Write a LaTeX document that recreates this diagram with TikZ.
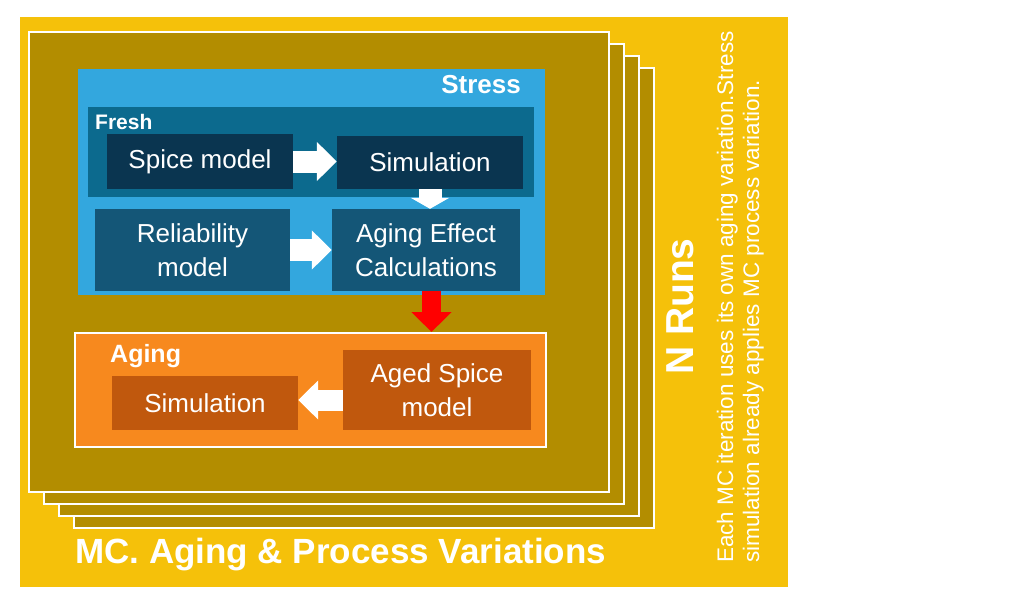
\documentclass[tikz,border=0pt]{standalone}
\usepackage{fontspec}
\setmainfont{Liberation Sans}
\usetikzlibrary{arrows.meta,calc}
\definecolor{mcyel}{HTML}{F5C10A}
\definecolor{mcolive}{HTML}{B38D00}
\definecolor{stressblue}{HTML}{33A7DE}
\definecolor{freshblue}{HTML}{0C6A8E}
\definecolor{darkbox}{HTML}{0A3550}
\definecolor{midbox}{HTML}{145677}
\definecolor{agingorange}{HTML}{F7891E}
\definecolor{brownbox}{HTML}{C0580D}
\begin{document}
\begin{tikzpicture}[x=1pt,y=-1pt,
  frame/.style={draw=white, line width=2pt, fill=mcolive, minimum width=580pt, minimum height=460pt, inner sep=0pt},
  box/.style={inner sep=0pt, text=white, align=center, font=\fontsize{26}{34}\selectfont},
  title/.style={inner sep=0pt, text=white, font=\bfseries\fontsize{#1}{#1}\selectfont},
  blockarrow/.style={white, line width=22pt, -{Triangle[length=20pt,width=38pt]}},
  downarrow/.style={white, line width=23pt, -{Triangle[length=11pt,width=38pt]}},
  redarrow/.style={red, line width=19pt, -{Triangle[length=20pt,width=39pt]}}
]
\useasboundingbox (0,0) rectangle (1013,594);
\node[fill=mcyel, minimum width=768pt, minimum height=570pt, inner sep=0pt] (outer) at (404,302) {};
% stacked frames
\node[frame] (f4) at (364,298) {};
\node[frame] (f3) at (349,286) {};
\node[frame] (f2) at (334,274) {};
\node[frame] (f1) at (319,262) {};
% stress
\node[fill=stressblue, minimum width=467pt, minimum height=226pt, inner sep=0pt] (stress) at (311.5,182) {};
\node[fill=freshblue, minimum width=446pt, minimum height=90pt, inner sep=0pt] (fresh) at (311,152) {};
\node[box, fill=darkbox, minimum width=186pt, minimum height=55pt] (spice) at (200,161.5) {Spice model};
\node[box, fill=darkbox, minimum width=186pt, minimum height=53pt] (sim1) at (430,162.5) {Simulation};
\node[box, fill=midbox, minimum width=195pt, minimum height=82pt] (rel) at (192.5,250) {Reliability\\model};
\node[box, fill=midbox, minimum width=188pt, minimum height=82pt] (ae) at (426,250) {Aging Effect\\Calculations};
% aging
\node[draw=white, line width=2pt, fill=agingorange, minimum width=471pt, minimum height=114pt, inner sep=0pt] (agingbox) at (310.5,390) {};
\node[box, fill=brownbox, minimum width=186pt, minimum height=54pt] (simB) at (205,403) {Simulation};
\node[box, fill=brownbox, minimum width=188pt, minimum height=80pt] (aged) at (437,390) {Aged Spice\\model};
% arrows
\draw[blockarrow] (spice.east) -- (spice.east -| sim1.west);
\draw[downarrow] (sim1.south) -- (sim1.south |- ae.north);
\draw[blockarrow] (rel.east) -- (rel.east -| ae.west);
\coordinate (redtop) at ([xshift=5.5pt]ae.south);
\draw[redarrow] (redtop) -- (redtop |- agingbox.north);
\coordinate (lefttail) at ([yshift=-10pt]aged.west);
\draw[blockarrow, line width=21pt] (lefttail) -- (lefttail -| simB.east);
% labels
\node[title=26, anchor=base east] (stresslbl) at (521,93) {Stress};
\node[title=21, anchor=base west] (freshlbl) at (95,129) {Fresh};
\node[title=25, anchor=base west] (aginglbl) at (110,362) {Aging};
\node[title=35, anchor=base west] (mclbl) at (75,563) {MC. Aging \& Process Variations};
\node[title=39, anchor=base west, rotate=90] (nruns) at (693,375) {N Runs};
\node[inner sep=0pt, text=white, font=\fontsize{22.5}{22.5}\selectfont, anchor=base west, rotate=90] (note1) at (733,563) {Each MC iteration uses its own aging variation.Stress};
\node[inner sep=0pt, text=white, font=\fontsize{22.5}{22.5}\selectfont, anchor=base west, rotate=90] (note2) at (759,563) {simulation already applies MC process variation.};
\end{tikzpicture}
\end{document}
